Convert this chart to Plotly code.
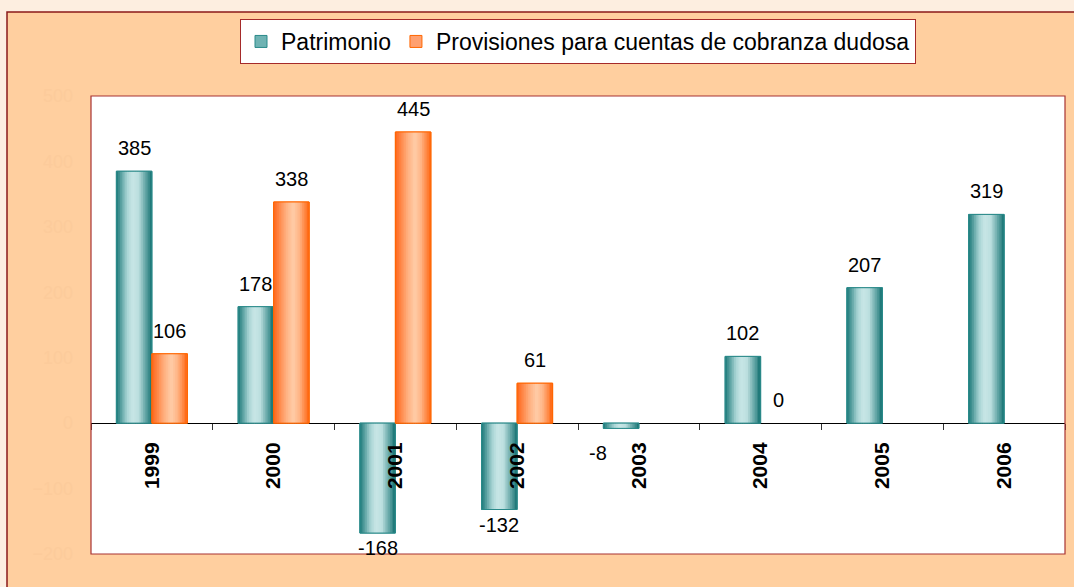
import plotly.graph_objects as go

# ---------------- data ----------------
years = ["1999", "2000", "2001", "2002", "2003", "2004", "2005", "2006"]
patrimonio = [385, 178, -168, -132, -8, 102, 207, 319]
provisiones = [106, 338, 445, 61, None, 0, None, None]
series_names = ["Patrimonio", "Provisiones para cuentas de cobranza dudosa"]
y_ticks = [-200, -100, 0, 100, 200, 300, 400, 500]

# ---------------- style ----------------
FONT = "Arial, Liberation Sans, sans-serif"
W, H = 1074, 587
ML, MR, MT, MB = 91, 9, 96, 33
PW, PH = W - ML - MR, H - MT - MB
BAR_W = 0.2915          # width of one bar in category units
N_STRIPS = 20

teal_stops = [(0.0, (0x1B, 0x78, 0x78)), (0.30, (0xA8, 0xD4, 0xD4)),
              (0.45, (0xC8, 0xE6, 0xE6)), (0.62, (0xBC, 0xDF, 0xDF)),
              (1.0, (0x16, 0x73, 0x73))]
orange_stops = [(0.0, (0xFF, 0x66, 0x1A)), (0.35, (0xFF, 0xB0, 0x80)),
                (0.55, (0xFF, 0xCD, 0xA8)), (0.72, (0xFF, 0xB5, 0x86)),
                (1.0, (0xFF, 0x66, 0x10))]


def grad(stops, t):
    for (t0, c0), (t1, c1) in zip(stops[:-1], stops[1:]):
        if t0 <= t <= t1:
            f = (t - t0) / (t1 - t0)
            return "rgb(%d,%d,%d)" % tuple(round(a + (b - a) * f) for a, b in zip(c0, c1))
    return "rgb(%d,%d,%d)" % stops[-1][1]


series = [
    (series_names[0], patrimonio, -BAR_W, teal_stops, "#2A8A8A", "#6FB3B3"),
    (series_names[1], provisiones, 0.0, orange_stops, "#FF6600", "#FFA070"),
]

fig = go.Figure()
for name, vals, off, stops, edge, mid in series:
    bar_vals = [v if v else None for v in vals]   # zero-height bars are not drawn
    fig.add_trace(go.Bar(x=years, y=bar_vals, name=name, offset=off, width=BAR_W,
                         marker=dict(color=mid, line=dict(color=edge, width=1)),
                         showlegend=True, hoverinfo="skip"))
    sw = BAR_W / N_STRIPS
    for i in range(N_STRIPS):
        t = (i + 0.5) / N_STRIPS
        w = sw * (1.6 if i < N_STRIPS - 1 else 1.0)
        fig.add_trace(go.Bar(x=years, y=bar_vals, offset=off + i * sw, width=w,
                             marker=dict(color=grad(stops, t), line=dict(width=0)),
                             showlegend=False, hoverinfo="skip"))
    fig.add_trace(go.Bar(x=years, y=bar_vals, offset=off, width=BAR_W,
                         marker=dict(color="rgba(0,0,0,0)", line=dict(color=edge, width=1)),
                         showlegend=False, hoverinfo="skip"))

# data labels (numeric category index positions)
annotations = []
for name, vals, off, stops, edge, mid in series:
    for idx, v in enumerate(vals):
        if v is None:
            continue
        ann = dict(y=v, xref="x", yref="y", text=str(v), showarrow=False,
                   font=dict(family=FONT, size=20, color="black"))
        if v >= 0:
            ann.update(x=idx + off + BAR_W / 2, xanchor="center", yanchor="bottom", yshift=10)
        elif v > -50:
            # short negative bar: label sits to the lower left, clear of the category text
            ann.update(x=idx + off, xanchor="right", yanchor="top", xshift=6, yshift=-12)
        else:
            ann.update(x=idx + off + BAR_W / 2, xanchor="center", yanchor="top", yshift=-2)
        annotations.append(ann)


def px2paper_x(px):
    return (px - ML) / PW


def px2paper_y(py):
    return (H - MB - py) / PH


shapes = [
    dict(type="rect", xref="paper", yref="paper", layer="below",
         x0=px2paper_x(7), x1=px2paper_x(W + 20), y0=px2paper_y(H + 20), y1=px2paper_y(12),
         fillcolor="#FFCF9F", line=dict(color="#8B1A1A", width=1.5)),
    dict(type="rect", xref="paper", yref="paper", layer="below",
         x0=0, x1=1, y0=0, y1=1, fillcolor="white", line=dict(width=0)),
    dict(type="rect", xref="paper", yref="paper", layer="above",
         x0=0, x1=1, y0=0, y1=1, fillcolor="rgba(0,0,0,0)",
         line=dict(color="#A83232", width=1.2)),
]

fig.update_layout(
    width=W, height=H,
    margin=dict(l=ML, r=MR, t=MT, b=MB, pad=0),
    paper_bgcolor="#FDEEE0", plot_bgcolor="rgba(0,0,0,0)",
    barmode="overlay",
    font=dict(family=FONT, color="black"),
    shapes=shapes, annotations=annotations,
    legend=dict(orientation="h", x=0.5, xanchor="center", y=px2paper_y(19), yanchor="top",
                bgcolor="white", bordercolor="#A52A2A", borderwidth=1,
                font=dict(family=FONT, size=23, color="black"),
                itemclick=False, itemdoubleclick=False),
    xaxis=dict(type="category", categoryorder="array", categoryarray=years,
               range=[-0.5, len(years) - 0.5], anchor="free", position=2 / 7,
               showline=False, showgrid=False, zeroline=False,
               ticks="outside", tickson="boundaries", ticklen=6, tickcolor="#333333",
               tickwidth=1, tickangle=-90, ticklabelstandoff=14,
               tickfont=dict(family=FONT, size=21, color="black", weight="bold")),
    yaxis=dict(range=[-200, 500], tickvals=y_ticks, showgrid=False, showline=False,
               zeroline=True, zerolinecolor="black", zerolinewidth=1,
               layer="above traces", ticks="", ticklabelstandoff=17,
               tickfont=dict(family=FONT, size=18, color="#FCCB9B")),
    showlegend=True,
)

fig.write_html("out.html", config={"displayModeBar": False},
               post_script="document.body.style.margin='0px';document.body.style.overflow='hidden';")
